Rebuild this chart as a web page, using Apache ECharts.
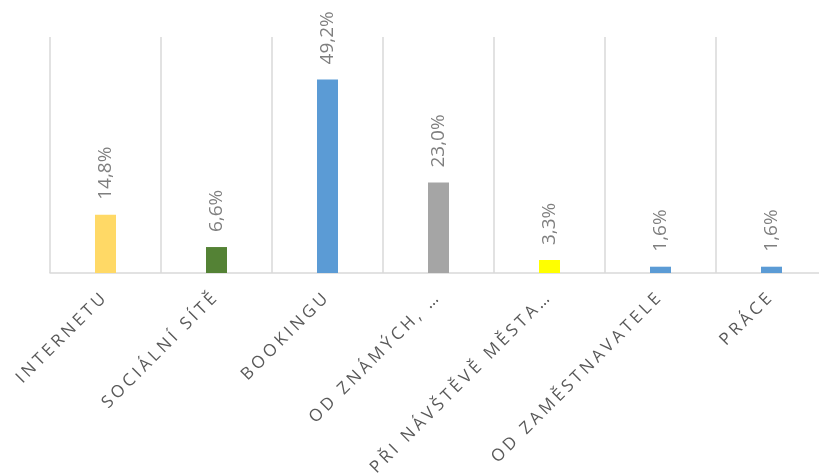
<!DOCTYPE html>
<html>
<head>
<meta charset="utf-8">
<script src="https://cdn.jsdelivr.net/npm/echarts@6/dist/echarts.min.js"></script>
<style>html,body{margin:0;padding:0;background:#fff;overflow:hidden;width:819px;height:475px;}#c{width:827px;height:475px;}</style>
</head>
<body>
<div id="c"></div>
<script>
const categories = ["INTERNETU", "SOCIÁLNÍ SÍTĚ", "BOOKINGU", "OD ZNÁMÝCH, …", "PŘI NÁVŠTĚVĚ MĚSTA…", "OD ZAMĚSTNAVATELE", "PRÁCE"];
const values = [14.8, 6.6, 49.2, 23.0, 3.3, 1.6, 1.6];
const barColors = ["#FFD966", "#548235", "#5B9BD5", "#A5A5A5", "#FFFF00", "#5B9BD5", "#5B9BD5"];

// letter-spaced category labels (rendering only; text unchanged)
(function () {
  const proto = CanvasRenderingContext2D.prototype;
  const orig = proto.fillText;
  proto.fillText = function (text, x, y, maxW) {
    const spaced = categories.indexOf(text) >= 0;
    if ('letterSpacing' in this) {
      const f = this.font;
      this.letterSpacing = spaced ? '3.5px' : '0px';
      this.font = f;
    }
    return maxW === undefined ? orig.call(this, text, x, y) : orig.call(this, text, x, y, maxW);
  };
})();

const chart = echarts.init(document.getElementById('c'), null, {renderer: 'canvas'});
chart.setOption({
  animation: false,
  backgroundColor: '#ffffff',
  grid: {left: 50, right: 0, top: 37, bottom: 202, containLabel: false},
  xAxis: {
    type: 'category',
    data: categories,
    boundaryGap: true,
    axisLine: {show: true, lineStyle: {color: '#D9D9D9', width: 1.5}},
    axisTick: {show: false},
    splitLine: {show: true, lineStyle: {color: '#D9D9D9', width: 1.5}},
    axisLabel: {
      interval: 0,
      rotate: 45,
      margin: 21,
      color: '#595959',
      fontFamily: 'Open Sans',
      fontSize: 17
    }
  },
  yAxis: {
    type: 'value',
    min: 0,
    max: 60,
    show: false,
    splitLine: {show: false}
  },
  series: [{
    type: 'bar',
    barWidth: 21,
    data: values.map((v, i) => ({value: v, itemStyle: {color: barColors[i]}})),
    label: {
      show: true,
      position: 'top',
      rotate: 90,
      align: 'left',
      verticalAlign: 'middle',
      distance: 15,
      color: '#7F7F7F',
      fontFamily: 'Open Sans',
      fontSize: 19,
      formatter: p => p.value.toFixed(1).replace('.', ',') + '%'
    }
  }]
});
</script>
</body>
</html>
